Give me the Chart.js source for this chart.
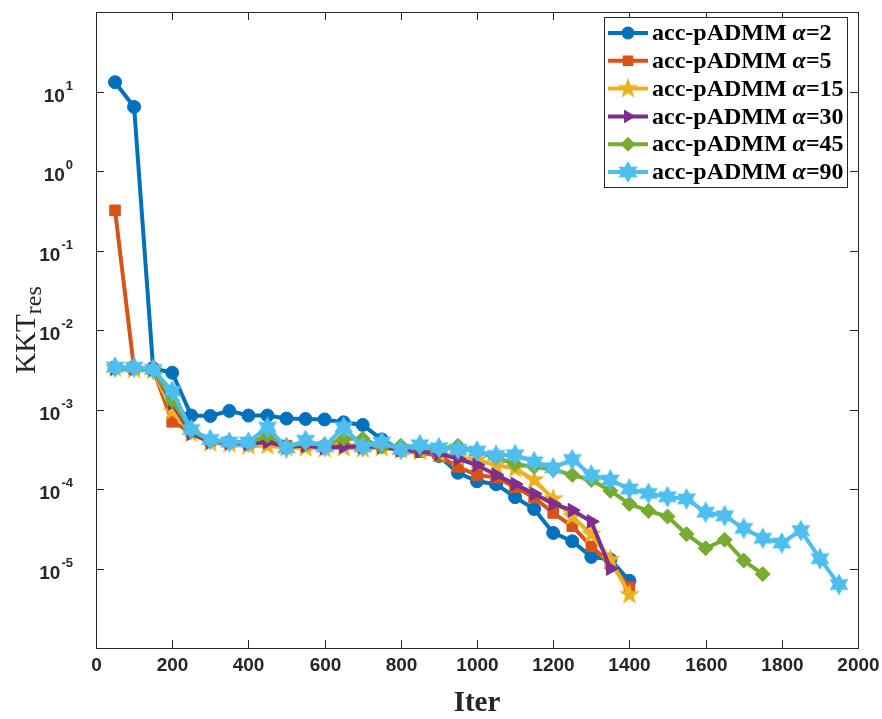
<!DOCTYPE html>
<html>
<head>
<meta charset="utf-8">
<script src="https://cdn.jsdelivr.net/npm/chart.js@4.4.0/dist/chart.umd.min.js"></script>
<style>
html, body { margin: 0; padding: 0; background: #fff; }
#wrap { width: 882px; height: 719px; }
</style>
</head>
<body>
<div id="wrap"><canvas id="canvas" width="882" height="719"></canvas></div>
<script>
// iteration counts (x) and KKT residuals per alpha
const iters = [50, 100, 150, 200, 250, 300, 350, 400, 450, 500, 550, 600, 650, 700, 750, 800,
	850, 900, 950, 1000, 1050, 1100, 1150, 1200, 1250, 1300, 1350, 1400, 1450, 1500, 1550,
	1600, 1650, 1700, 1750, 1800, 1850, 1900, 1950];

const alpha2 = [13.1, 6.4, 3.3e-3, 2.9e-3, 8.4e-4, 8.3e-4, 9.6e-4, 8.4e-4, 8.4e-4, 7.7e-4,
	7.6e-4, 7.5e-4, 6.9e-4, 6.4e-4, 4.2e-4, 3.1e-4, 3.0e-4, 2.6e-4, 1.6e-4, 1.25e-4,
	1.15e-4, 7.9e-5, 5.6e-5, 2.8e-5, 2.2e-5, 1.4e-5, 1.3e-5, 7e-6];
const alpha5 = [0.32, 3.2e-3, 3.2e-3, 7.0e-4, 5.2e-4, 4.0e-4, 3.8e-4, 3.7e-4, 4.2e-4, 3.5e-4,
	3.5e-4, 3.4e-4, 3.6e-4, 3.4e-4, 3.5e-4, 3.0e-4, 2.9e-4, 2.6e-4, 1.9e-4, 1.5e-4,
	1.4e-4, 1.05e-4, 7.8e-5, 5.0e-5, 3.4e-5, 1.9e-5, 1.15e-5, 5.8e-6];
const alpha15 = [3.3e-3, 3.2e-3, 3.1e-3, 9.5e-4, 5.0e-4, 3.8e-4, 3.7e-4, 3.5e-4, 3.5e-4, 3.3e-4,
	3.3e-4, 3.2e-4, 3.3e-4, 3.2e-4, 3.3e-4, 3.1e-4, 3.0e-4, 2.8e-4, 2.5e-4, 2.3e-4,
	2.0e-4, 1.8e-4, 1.3e-4, 7.5e-5, 4.5e-5, 2.7e-5, 1.3e-5, 4.7e-6];
const alpha30 = [3.3e-3, 3.3e-3, 3.2e-3, 1.2e-3, 5.0e-4, 3.9e-4, 3.8e-4, 3.7e-4, 3.9e-4, 3.4e-4,
	3.5e-4, 3.3e-4, 3.4e-4, 3.4e-4, 3.4e-4, 3.1e-4, 3.0e-4, 2.8e-4, 2.4e-4, 2.0e-4,
	1.5e-4, 1.15e-4, 8.7e-5, 6.5e-5, 5.4e-5, 3.9e-5, 1.0e-5];
const alpha45 = [3.3e-3, 3.3e-3, 3.2e-3, 1.3e-3, 5.5e-4, 4.0e-4, 3.9e-4, 3.8e-4, 4.7e-4, 3.5e-4,
	3.8e-4, 3.6e-4, 4.3e-4, 4.3e-4, 3.4e-4, 3.5e-4, 3.4e-4, 3.2e-4, 3.5e-4, 2.9e-4,
	2.5e-4, 2.05e-4, 1.9e-4, 1.75e-4, 1.5e-4, 1.3e-4, 9.5e-5, 6.5e-5, 5.3e-5, 4.5e-5,
	2.7e-5, 1.8e-5, 2.3e-5, 1.26e-5, 8.5e-6];
const alpha90 = [3.4e-3, 3.4e-3, 3.2e-3, 1.7e-3, 5.6e-4, 4.2e-4, 3.9e-4, 3.9e-4, 6.0e-4, 3.3e-4,
	4.1e-4, 3.4e-4, 6.0e-4, 3.4e-4, 3.9e-4, 3.15e-4, 3.6e-4, 3.3e-4, 3.15e-4, 3.0e-4,
	2.65e-4, 2.7e-4, 2.2e-4, 1.85e-4, 2.35e-4, 1.5e-4, 1.3e-4, 1.0e-4, 8.8e-5, 8.0e-5,
	7.5e-5, 5.1e-5, 4.6e-5, 3.2e-5, 2.4e-5, 2.1e-5, 3.0e-5, 1.33e-5, 6.3e-6];

const alphaLabels = ['2', '5', '15', '30', '45', '90'];
const xTicks = [0, 200, 400, 600, 800, 1000, 1200, 1400, 1600, 1800, 2000];
const yTickExps = [-5, -4, -3, -2, -1, 0, 1];

const colors = ['#0072BD', '#D95319', '#EDB120', '#7E2F8E', '#77AC30', '#4DBEEE'];

function makeStar(points, outer, inner, color) {
	const size = Math.ceil(outer * 2 + 2);
	const c = document.createElement('canvas');
	c.width = size;
	c.height = size;
	const g = c.getContext('2d');
	g.fillStyle = color;
	g.beginPath();
	for (let i = 0; i < points * 2; i++) {
		const r = i % 2 === 0 ? outer : inner;
		const a = -Math.PI / 2 + i * Math.PI / points;
		const px = size / 2 + r * Math.cos(a);
		const py = size / 2 + r * Math.sin(a);
		if (i === 0) g.moveTo(px, py); else g.lineTo(px, py);
	}
	g.closePath();
	g.fill();
	return c;
}

const pentagram = makeStar(5, 11, 4.4, colors[2]);
const hexagram = makeStar(6, 11, 6.2, colors[5]);

const markers = [
	{ style: 'circle', radius: 6.5, rotation: 0 },
	{ style: 'rect', radius: 7.5, rotation: 0 },
	{ style: pentagram, radius: 11, rotation: 0 },
	{ style: 'triangle', radius: 8, rotation: 90 },
	{ style: 'rectRot', radius: 7.5, rotation: 0 },
	{ style: hexagram, radius: 11, rotation: 0 }
];

const seriesValues = [alpha2, alpha5, alpha15, alpha30, alpha45, alpha90];

const datasets = seriesValues.map((vals, i) => ({
	label: 'acc-pADMM \u03b1=' + alphaLabels[i],
	data: vals.map((v, j) => ({ x: iters[j], y: v })),
	borderColor: colors[i],
	backgroundColor: colors[i],
	borderWidth: 4,
	pointStyle: markers[i].style,
	pointRadius: markers[i].radius,
	pointRotation: markers[i].rotation,
	pointBorderWidth: 1,
	pointBorderColor: colors[i],
	pointBackgroundColor: colors[i],
	tension: 0,
	order: 5 - i
}));

function drawMarker(ctx, m, color, x, y) {
	ctx.save();
	ctx.fillStyle = color;
	ctx.strokeStyle = color;
	if (typeof m.style !== 'string') {
		ctx.drawImage(m.style, x - m.style.width / 2, y - m.style.height / 2);
		ctx.restore();
		return;
	}
	const r = m.radius;
	ctx.beginPath();
	if (m.style === 'circle') {
		ctx.arc(x, y, r, 0, Math.PI * 2);
	} else if (m.style === 'rect') {
		const s = Math.SQRT1_2 * r;
		ctx.rect(x - s, y - s, 2 * s, 2 * s);
	} else if (m.style === 'triangle') {
		ctx.moveTo(x + r, y);
		ctx.lineTo(x - r / 2, y - r * 0.866);
		ctx.lineTo(x - r / 2, y + r * 0.866);
		ctx.closePath();
	} else if (m.style === 'rectRot') {
		ctx.moveTo(x, y - r);
		ctx.lineTo(x + r, y);
		ctx.lineTo(x, y + r);
		ctx.lineTo(x - r, y);
		ctx.closePath();
	}
	ctx.fill();
	ctx.restore();
}

const axisFrame = {
	id: 'axisFrame',
	afterDraw(chart) {
		const ctx = chart.ctx;
		const xs = chart.scales.x;
		const ys = chart.scales.y;
		const a = chart.chartArea;
		ctx.save();
		ctx.strokeStyle = '#262626';
		ctx.lineWidth = 1;
		ctx.strokeRect(Math.round(a.left) + 0.5, Math.round(a.top) + 0.5,
			Math.round(a.right - a.left), Math.round(a.bottom - a.top));

		// x ticks, inward on bottom and top
		ctx.fillStyle = '#262626';
		ctx.font = 'bold 19px "Liberation Sans", Arial, sans-serif';
		ctx.textAlign = 'center';
		ctx.textBaseline = 'middle';
		xTicks.forEach(t => {
			const px = Math.round(xs.getPixelForValue(t)) + 0.5;
			ctx.beginPath();
			ctx.moveTo(px, a.bottom);
			ctx.lineTo(px, a.bottom - 8);
			ctx.moveTo(px, a.top);
			ctx.lineTo(px, a.top + 8);
			ctx.stroke();
			ctx.fillText(String(t), px, a.bottom + 18);
		});

		// y ticks (log decades)
		yTickExps.forEach(e => {
			const py = Math.round(ys.getPixelForValue(Math.pow(10, e))) + 0.5;
			ctx.beginPath();
			ctx.moveTo(a.left, py);
			ctx.lineTo(a.left + 8, py);
			ctx.moveTo(a.right, py);
			ctx.lineTo(a.right - 8, py);
			ctx.stroke();
			const expStr = String(e);
			ctx.textAlign = 'left';
			ctx.font = 'bold 13px "Liberation Sans", Arial, sans-serif';
			const ew = ctx.measureText(expStr).width;
			ctx.font = 'bold 19px "Liberation Sans", Arial, sans-serif';
			const bw = ctx.measureText('10').width;
			const right = a.left - 24;
			const bx = right - ew - bw;
			ctx.fillText('10', bx, py + 4);
			ctx.font = 'bold 13px "Liberation Sans", Arial, sans-serif';
			ctx.fillText(expStr, bx + bw + 1, py - 6);
		});

		// axis titles
		ctx.fillStyle = '#262626';
		ctx.textAlign = 'center';
		ctx.textBaseline = 'alphabetic';
		ctx.font = 'bold 29px "Liberation Serif", "Times New Roman", serif';
		ctx.fillText('Iter', (a.left + a.right) / 2, 711);

		ctx.save();
		ctx.translate(35, (a.top + a.bottom) / 2);
		ctx.rotate(-Math.PI / 2);
		ctx.textAlign = 'left';
		ctx.font = '29px "Liberation Serif", "Times New Roman", serif';
		const kw = ctx.measureText('KKT').width;
		ctx.font = '24px "Liberation Serif", "Times New Roman", serif';
		const rw = ctx.measureText('res').width;
		const sx = -(kw + rw) / 2;
		ctx.font = '29px "Liberation Serif", "Times New Roman", serif';
		ctx.fillText('KKT', sx, 0);
		ctx.font = '24px "Liberation Serif", "Times New Roman", serif';
		ctx.fillText('res', sx + kw, 6);
		ctx.restore();

		// legend
		const lx = 604, ly = 17, lw = 243, lh = 170;
		ctx.fillStyle = '#fff';
		ctx.fillRect(lx, ly, lw, lh);
		ctx.strokeStyle = '#262626';
		ctx.strokeRect(lx + 0.5, ly + 0.5, lw, lh);
		ctx.textBaseline = 'middle';
		ctx.textAlign = 'left';
		alphaLabels.forEach((lab, i) => {
			const y = 33 + i * 27.8;
			ctx.strokeStyle = colors[i];
			ctx.lineWidth = 4;
			ctx.beginPath();
			ctx.moveTo(608, y);
			ctx.lineTo(648, y);
			ctx.stroke();
			drawMarker(ctx, markers[i], colors[i], 628, y);
			ctx.fillStyle = '#000';
			let tx = 652;
			ctx.font = 'bold 24px "Liberation Serif", "Times New Roman", serif';
			ctx.fillText('acc-pADMM ', tx, y + 1);
			tx += ctx.measureText('acc-pADMM ').width;
			ctx.font = 'italic bold 24px "Liberation Serif", "Times New Roman", serif';
			ctx.fillText('\u03b1', tx, y + 1);
			tx += ctx.measureText('\u03b1').width;
			ctx.font = 'bold 24px "Liberation Serif", "Times New Roman", serif';
			ctx.fillText('=' + lab, tx, y + 1);
		});
		ctx.restore();
	}
};

const ctx = document.getElementById('canvas');
new Chart(ctx, {
	type: 'line',
	data: { datasets: datasets },
	options: {
		responsive: false,
		animation: false,
		layout: { padding: { left: 96, top: 6, right: 24, bottom: 71 } },
		plugins: {
			legend: { display: false },
			tooltip: { enabled: false }
		},
		scales: {
			x: {
				type: 'linear',
				min: 0,
				max: 2000,
				display: false
			},
			y: {
				type: 'logarithmic',
				min: 1e-6,
				max: 1e2,
				display: false
			}
		}
	},
	plugins: [axisFrame]
});
</script>
</body>
</html>
